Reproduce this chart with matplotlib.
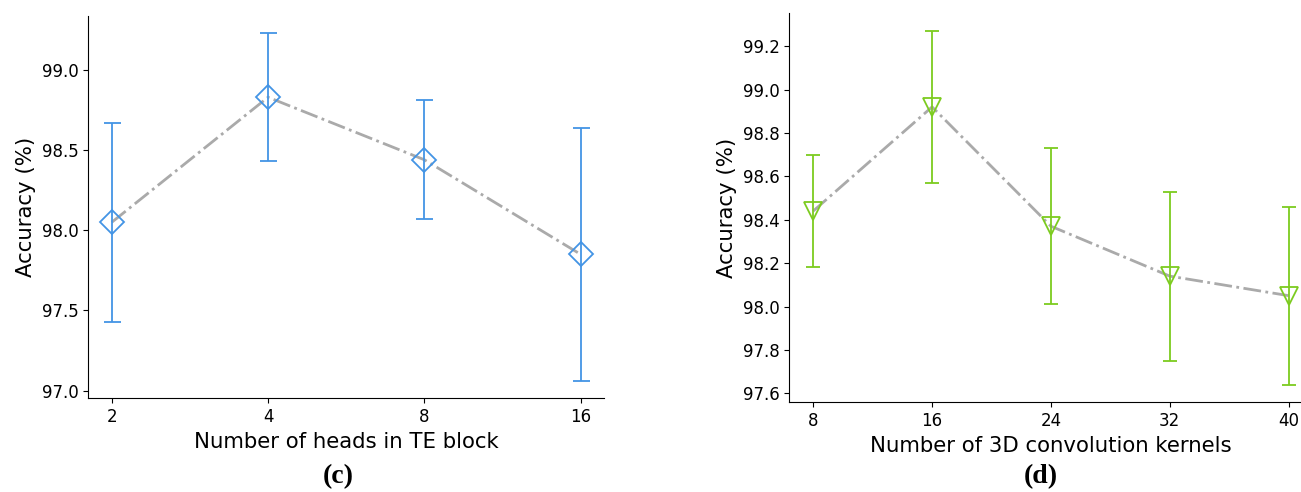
import matplotlib.pyplot as plt

# (c) number of attention heads in the TE block
heads = ['2', '4', '8', '16']
heads_acc = [98.05, 98.83, 98.44, 97.85]
heads_err = [0.62, 0.40, 0.37, 0.79]

# (d) number of 3D convolution kernels
kernels = ['8', '16', '24', '32', '40']
kernels_acc = [98.44, 98.92, 98.37, 98.14, 98.05]
kernels_err = [0.26, 0.35, 0.36, 0.39, 0.41]

blue = '#4394E5'
green = '#7CCB1F'
gray = '#AAAAAA'

fig = plt.figure(figsize=(13.01, 4.92), dpi=100)
ax1 = fig.add_axes([0.0679, 0.1904, 0.3964, 0.7776])
ax2 = fig.add_axes([0.6068, 0.1823, 0.4020, 0.7907])


def panel(ax, labels, acc, err, color, marker, ms, capsize, xlabel):
    x = list(range(len(labels)))
    ax.plot(x, acc, color=gray, linestyle='-.', linewidth=2, zorder=1)
    ax.errorbar(x, acc, yerr=err, fmt=marker, color=color, ecolor=color,
                markerfacecolor='none', markeredgecolor=color, markersize=ms,
                markeredgewidth=1.3, elinewidth=1.3, capsize=capsize, capthick=1.3, zorder=2)
    ax.set_xticks(x)
    ax.set_xticklabels(labels)
    ax.set_xlabel(xlabel, fontsize=15.3)
    ax.set_ylabel('Accuracy (%)', fontsize=15.3)
    ax.tick_params(labelsize=12)
    ax.spines['top'].set_visible(False)
    ax.spines['right'].set_visible(False)


panel(ax1, heads, heads_acc, heads_err, blue, 'D', 12.5, 8.5 * 0.72, 'Number of heads in TE block')
panel(ax2, kernels, kernels_acc, kernels_err, green, 'v', 13.5, 7.3 * 0.72, 'Number of 3D convolution kernels')
ax1.set_yticks([97.0, 97.5, 98.0, 98.5, 99.0])

fig.text(0.2598, 0.018, '(c)', ha='center', fontsize=20, fontweight='bold', family='Liberation Serif')
fig.text(0.8001, 0.018, '(d)', ha='center', fontsize=20, fontweight='bold', family='Liberation Serif')

plt.savefig('out.png', dpi=100)
